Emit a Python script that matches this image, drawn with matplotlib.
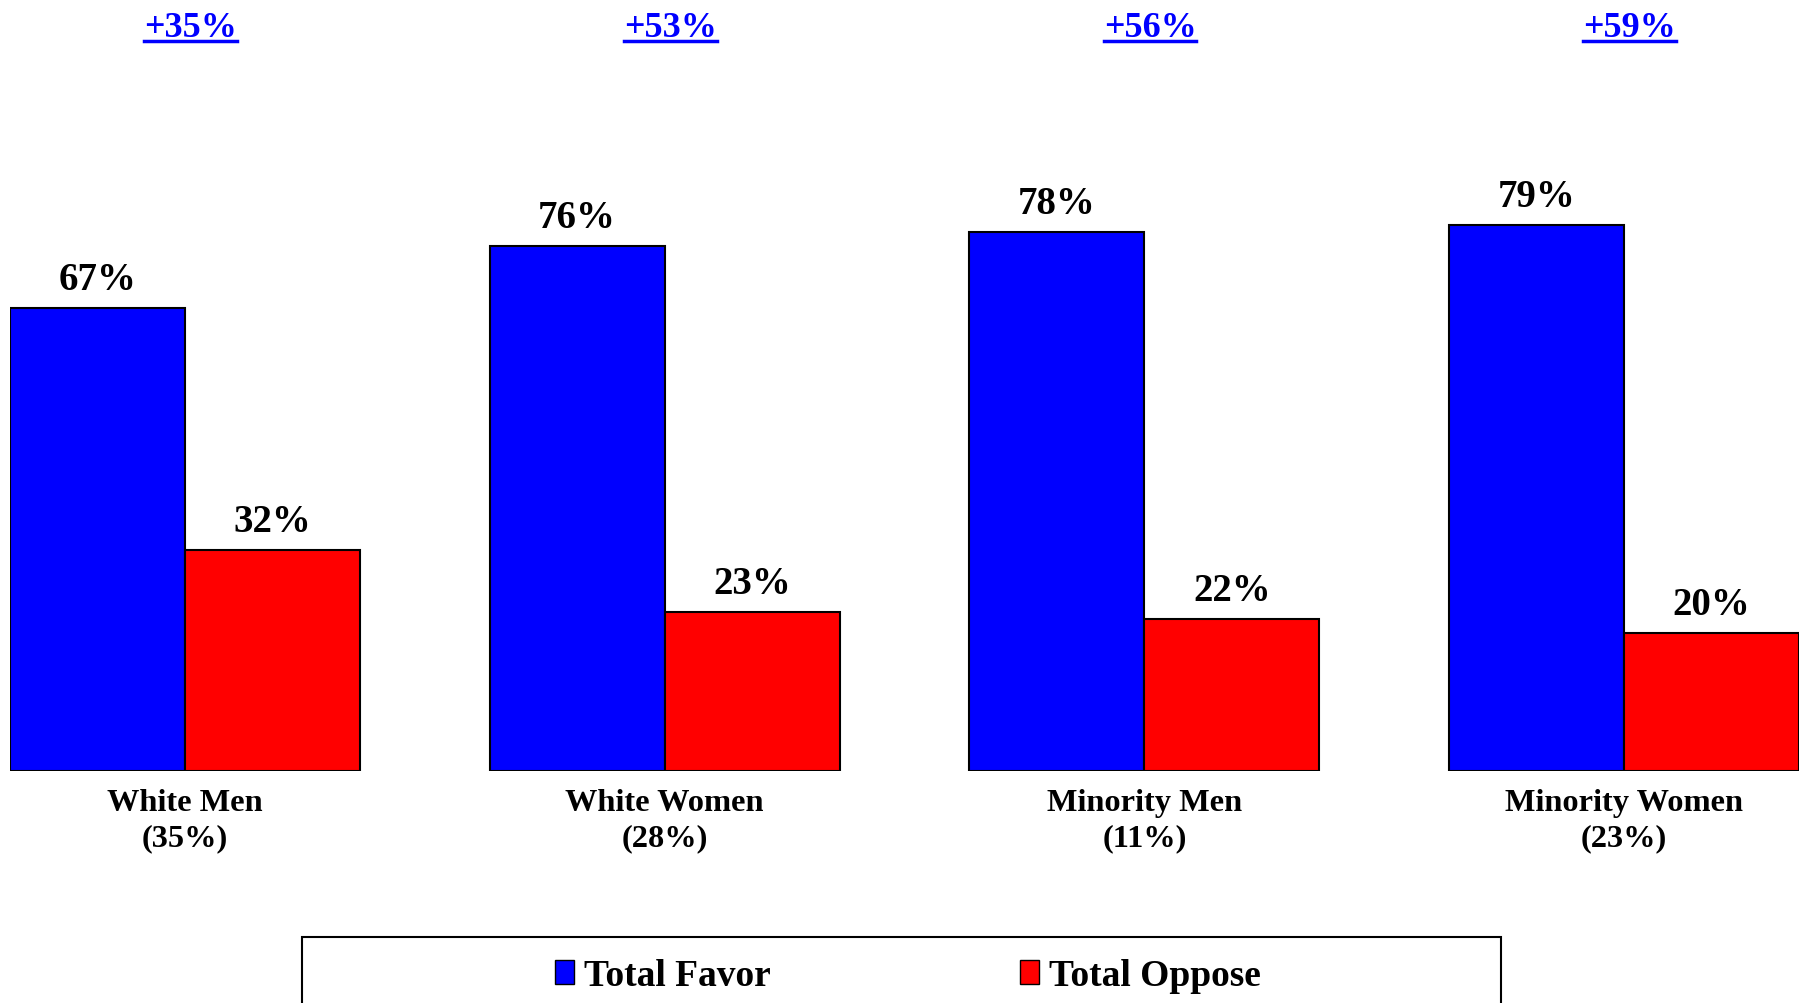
import matplotlib
matplotlib.use("Agg")
import matplotlib.pyplot as plt
import numpy as np
from matplotlib.patches import Rectangle, Patch
from matplotlib.lines import Line2D

categories = ["White Men", "White Women", "Minority Men", "Minority Women"]
shares = ["(35%)", "(28%)", "(11%)", "(23%)"]
favor = [67, 76, 78, 79]
oppose = [32, 23, 22, 20]
series_names = ["Total Favor", "Total Oppose"]
colors = ["#0000FF", "#FF0000"]

plt.rcParams['font.family'] = ['Liberation Serif', 'DejaVu Serif']
plt.rcParams['font.weight'] = 'bold'

W, H = 1806, 1004
fig = plt.figure(figsize=(W / 100, H / 100), dpi=100)
ax = fig.add_axes([10 / W, (H - 772) / H, 1789 / W, 691 / H])

x = np.arange(len(categories))
bw = 175 / 480
b1 = ax.bar(x - bw / 2, favor, bw, color=colors[0], edgecolor='black', linewidth=1.5)
b2 = ax.bar(x + bw / 2, oppose, bw, color=colors[1], edgecolor='black', linewidth=1.5)
ax.set_xlim(-0.3646, 3.3646)
ax.set_ylim(0, 100)

for bars, vals in ((b1, favor), (b2, oppose)):
    for rect, v in zip(bars, vals):
        ax.annotate(f"{v}%", (rect.get_x() + rect.get_width() / 2, v),
                    xytext=(0, 13.7), textcoords='offset points',
                    ha='center', va='baseline', fontsize=28, fontweight='bold')

for s in ax.spines.values():
    s.set_visible(False)
ax.set_yticks([])
ax.set_xticks(x)
ax.set_xticklabels([f"{c}\n{s}" for c, s in zip(categories, shares)],
                   fontsize=23.3, fontweight='bold', linespacing=1.3)
ax.tick_params(axis='x', length=0, pad=12)

# difference labels at top
blend = matplotlib.transforms.blended_transform_factory(ax.transData, fig.transFigure)
texts = []
for xi, f, o in zip(x, favor, oppose):
    t = ax.text(xi + 0.012, (H - 37) / H, f"+{f - o}%", transform=blend,
                ha='center', va='baseline', fontsize=26, fontweight='bold',
                color='#0000FF')
    texts.append(t)
fig.canvas.draw()
r = fig.canvas.get_renderer()
for t in texts:
    bb = t.get_window_extent(r)
    fig.add_artist(Line2D([bb.x0 / W, bb.x1 / W], [(H - 41.5) / H] * 2,
                          transform=fig.transFigure, color='#0000FF', linewidth=2.5))

# legend box
fig.add_artist(Rectangle((302 / W, -0.05), (1501 - 302) / W, 0.05 + (H - 938) / H,
                         transform=fig.transFigure, facecolor='white',
                         edgecolor='black', linewidth=1.5))
handles = [Patch(facecolor=c, edgecolor='black', linewidth=1.0) for c in colors]
fig.legend(handles, series_names, loc='center', bbox_to_anchor=(908 / W, 27.5 / H),
           ncol=2, frameon=False, handlelength=0.5, handleheight=0.6,
           handletextpad=0.27, columnspacing=6.64, prop={'weight': 'bold', 'size': 27})

fig.savefig("out.png", dpi=100)
